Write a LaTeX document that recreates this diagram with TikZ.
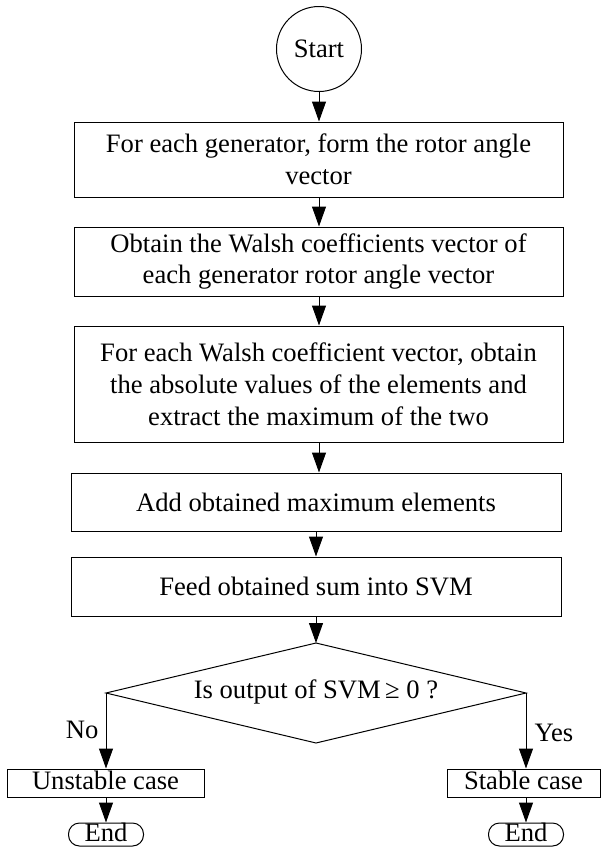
\documentclass[tikz,border=0pt]{standalone}
\usepackage{fontspec}
\setmainfont{Liberation Serif}
\usetikzlibrary{arrows.meta}
\begin{document}
\begin{tikzpicture}[x=1pt,y=-1pt,
  txt/.style={font=\fontsize{26.6}{32}\selectfont},
  box/.style={txt,draw,line width=1pt,align=center,inner sep=0pt},
  smallbox/.style={txt,draw,line width=1pt,inner sep=0pt,minimum height=28pt,text height=18pt,text depth=6pt},
  endbox/.style={txt,draw,line width=1pt,rounded corners=11pt,inner sep=0pt,minimum width=75pt,minimum height=23pt,text height=18pt,text depth=5pt},
  arr/.style={-{Triangle[length=20pt,width=14pt]},line width=1pt}]
\useasboundingbox (0,0) rectangle (601,852);
\node[txt,draw,circle,line width=1pt,minimum size=85pt,inner sep=0pt] (start) at (319,49) {Start};
\node[box,minimum width=489pt,minimum height=75pt] (b1) at (318.5,159.5) {For each generator, form the rotor angle\\vector};
\node[box,minimum width=489pt,minimum height=69pt] (b2) at (318.5,261.5) {Obtain the Walsh coefficients vector of\\each generator rotor angle vector};
\node[box,minimum width=489pt,minimum height=116pt] (b3) at (318.5,384) {For each Walsh coefficient vector, obtain\\the absolute values of the elements and\\extract the maximum of the two};
\node[box,minimum width=490pt,minimum height=58pt] (b4) at (316,502) {Add obtained maximum elements};
\node[box,minimum width=490pt,minimum height=59pt] (b5) at (316,586.5) {Feed obtained sum into SVM};
\coordinate (dT) at (316,643);
\coordinate (dB) at (316,743);
\coordinate (dL) at (106,693);
\coordinate (dR) at (526,693);
\draw[line width=1pt] (dT) -- (dR) -- (dB) -- (dL) -- cycle;
\node[txt] (dia) at (316,692) {Is output of SVM\,≥ 0 ?};
\node[smallbox,minimum width=197pt] (uns) at (105.5,783) {Unstable case};
\node[smallbox,minimum width=153pt] (sta) at (523.5,783) {Stable case};
\node[endbox] (endL) at (106,834.5) {End};
\node[endbox] (endR) at (526,834.5) {End};
\node[txt,anchor=east] (no) at (102,730) {No};
\node[txt,anchor=west] (yes) at (531,733) {Yes};
\draw[arr] (start.south) -- (start.south |- b1.north);
\draw[arr] (start.south |- b1.south) -- (start.south |- b2.north);
\draw[arr] (start.south |- b2.south) -- (start.south |- b3.north);
\draw[arr] (start.south |- b3.south) -- (start.south |- b4.north);
\draw[arr] (b4.south) -- (b5.north);
\draw[arr] (b5.south -| dT) -- (dT);
\draw[arr] (dL) -- (dL |- uns.north);
\draw[arr] (dR) -- (dR |- sta.north);
\draw[arr] (endL.north |- uns.south) -- (endL.north);
\draw[arr] (endR.north |- sta.south) -- (endR.north);
\end{tikzpicture}
\end{document}
